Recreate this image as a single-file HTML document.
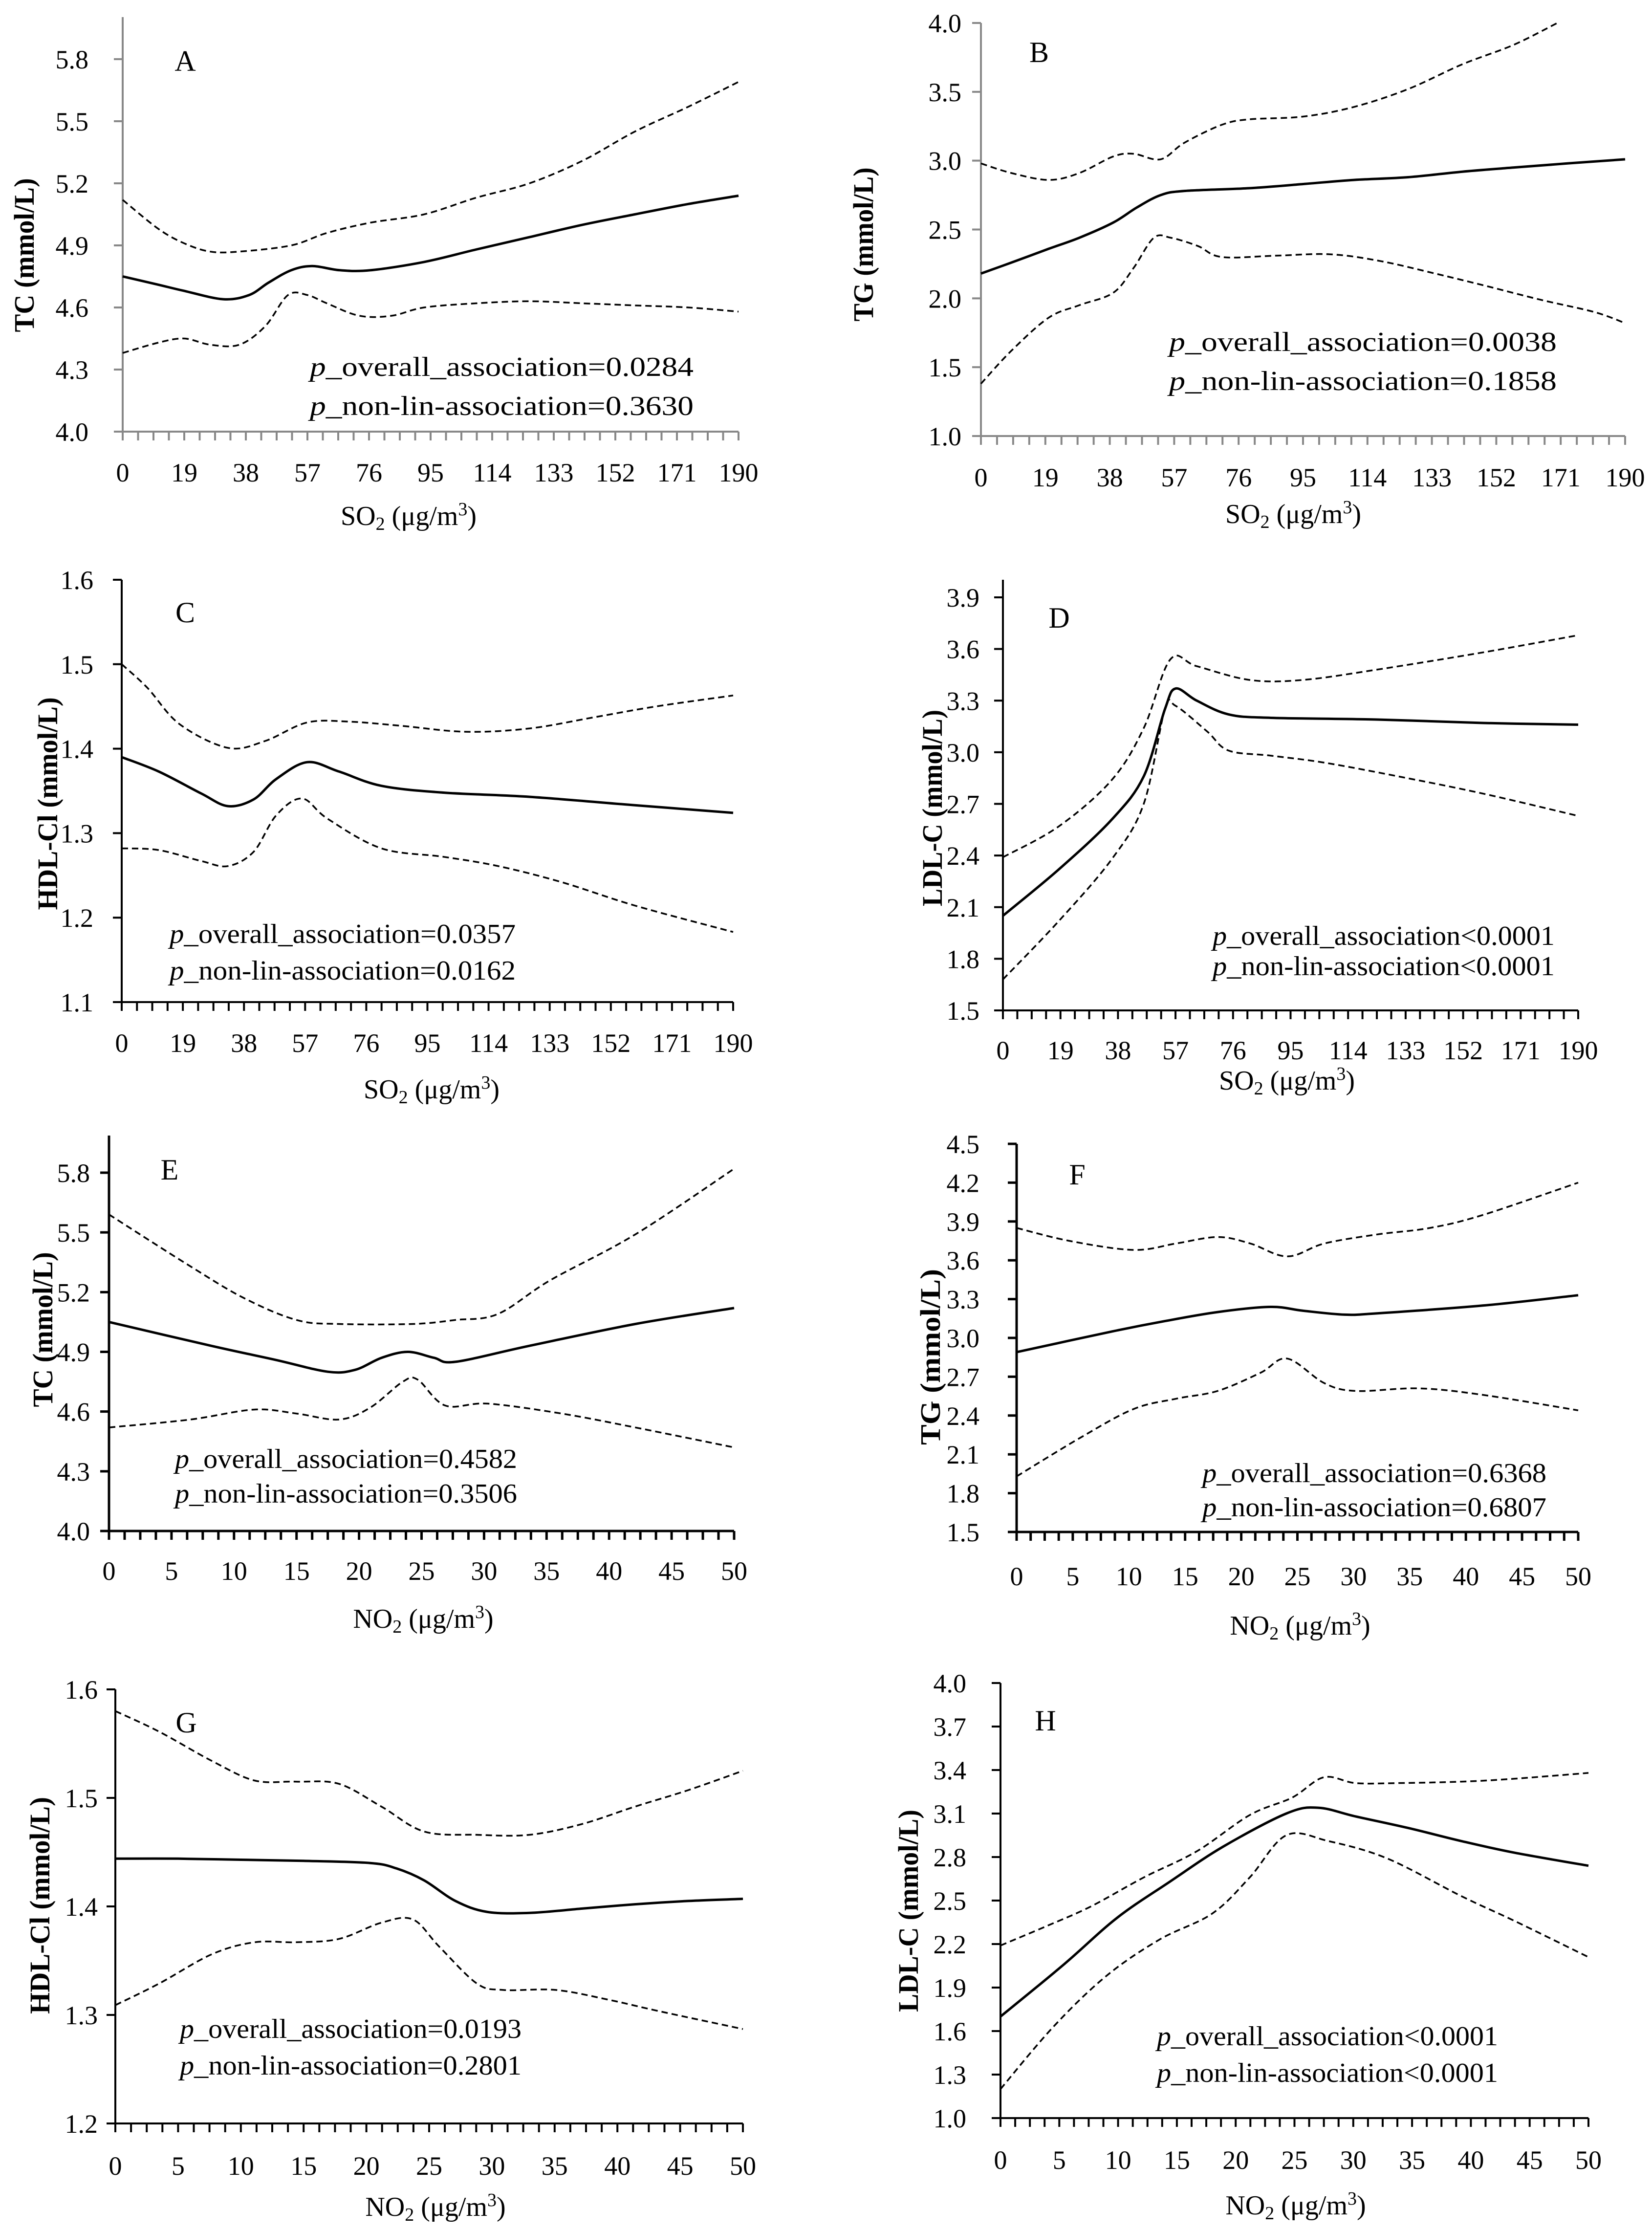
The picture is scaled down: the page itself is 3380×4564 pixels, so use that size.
<!DOCTYPE html>
<html><head><meta charset="utf-8"><style>
html,body{margin:0;padding:0;background:#fff;}
svg{display:block;}
text{font-family:"Liberation Serif",serif;fill:#000;}
</style></head><body>
<svg id="fig" width="3380" height="4564" viewBox="0 0 3380 4564" xmlns="http://www.w3.org/2000/svg"></svg>
<script>
// ---- Panel A: TC vs SO2 ----
const aMidX=[0,11,19,31,39,45,52,58.5,67,76.5,93,109,125.5,142,158,174.5,190];
const aMidY=[4.75,4.71,4.68,4.64,4.66,4.72,4.78,4.80,4.78,4.78,4.82,4.88,4.94,5.00,5.05,5.10,5.14];
const aUpX=[0,11,19,27,36,52,63,76.5,93,109,125.5,142,158,174.5,190];
const aUpY=[5.12,4.98,4.91,4.87,4.87,4.90,4.96,5.01,5.05,5.13,5.20,5.31,5.45,5.57,5.69];
const aLoX=[0,11,19,27,36,44,51,57,63,73,83,93,109,125.5,142,158,174.5,190];
const aLoY=[4.38,4.43,4.45,4.42,4.42,4.51,4.66,4.66,4.62,4.56,4.56,4.60,4.62,4.63,4.62,4.61,4.60,4.58];
// ---- Panel B: TG vs SO2 ----
const bMidX=[0,9,20,29,39,46,53,60,79,95,110,126,142,157,173,190];
const bMidY=[2.18,2.26,2.36,2.44,2.55,2.66,2.75,2.78,2.80,2.83,2.86,2.88,2.92,2.95,2.98,3.01];
const bUpX=[0,9,20,29,39,45,53,60,71,79,95,110,126,142,157,170];
const bUpY=[2.98,2.91,2.86,2.91,3.03,3.05,3.01,3.13,3.26,3.30,3.32,3.39,3.52,3.70,3.84,4.00];
const bLoX=[0,9,20,29,39,45,51,56,64,71,87,103,118,134,149,165,181,190];
const bLoY=[1.38,1.62,1.86,1.95,2.04,2.22,2.44,2.44,2.38,2.30,2.31,2.32,2.27,2.18,2.09,1.99,1.90,1.82];
// ---- Panel C: HDL vs SO2 ----
const cMidX=[0,11.5,24.7,33,41,48,57.6,67.5,80.7,100,126.8,159.7,190];
const cMidY=[1.39,1.373,1.347,1.332,1.34,1.364,1.384,1.373,1.356,1.348,1.343,1.333,1.324];
const cUpX=[0,8,18,33,44.5,57.6,70.8,87,107,126.8,146.5,166,190];
const cUpY=[1.50,1.472,1.429,1.401,1.409,1.431,1.432,1.427,1.42,1.424,1.437,1.45,1.463];
const cLoX=[0,11.5,24.7,33,41,48,56,64,80.7,100,117,136.7,159.7,190];
const cLoY=[1.282,1.28,1.267,1.261,1.278,1.321,1.341,1.317,1.282,1.272,1.261,1.242,1.214,1.183];
// ---- Panel D: LDL vs SO2 ----
const dMidX=[0,18.5,36,46.5,53.5,57,64,74.5,88.5,123.5,158.5,190];
const dMidY=[2.05,2.32,2.61,2.86,3.25,3.37,3.30,3.22,3.20,3.19,3.17,3.16];
const dUpX=[0,18.5,36,46.5,55.3,64,81.5,99,123.5,158.5,190];
const dUpY=[2.39,2.57,2.84,3.14,3.54,3.50,3.42,3.42,3.48,3.58,3.68];
const dLoX=[0,18.5,36,46.5,53.5,57,67.5,74.5,88.5,106,130.5,158.5,190];
const dLoY=[1.68,2.02,2.38,2.70,3.25,3.27,3.12,3.01,2.98,2.94,2.86,2.76,2.63];
// ---- Panel E: TC vs NO2 ----
const eMidX=[0,8.2,13.3,17.5,19.7,21.8,23.9,26,27.7,33.6,42.1,50];
const eMidY=[5.05,4.93,4.86,4.80,4.81,4.87,4.90,4.87,4.85,4.93,5.04,5.12];
const eUpX=[0,6.5,10.8,15,18.4,24.3,27.7,31.1,35.3,42.1,50];
const eUpY=[5.59,5.33,5.17,5.06,5.04,5.04,5.06,5.09,5.26,5.49,5.82];
const eLoX=[0,6.5,11.6,15,18.4,20.9,23.5,24.7,26.9,30.3,36.2,42.1,50];
const eLoY=[4.52,4.56,4.61,4.59,4.56,4.62,4.75,4.76,4.63,4.64,4.59,4.52,4.42];
// ---- Panel F: TG vs NO2 ----
const fMidX=[0,8.5,13.2,17.9,22.6,25.5,29.2,32.1,41.5,50];
const fMidY=[2.89,3.05,3.13,3.20,3.24,3.21,3.18,3.19,3.25,3.33];
const fUpX=[0,4.7,10.4,14.2,17.9,20.8,24.1,27.4,32.1,36.8,41.5,50];
const fUpY=[3.85,3.75,3.68,3.73,3.78,3.73,3.63,3.73,3.80,3.85,3.95,4.20];
const fLoX=[0,5.7,10.4,14.2,17.9,21.7,24.1,27.4,30.2,35.8,41.5,50];
const fLoY=[1.93,2.23,2.45,2.53,2.59,2.73,2.84,2.65,2.59,2.61,2.56,2.44];
// ---- Panel G: HDL vs NO2 ----
const gMidX=[0,5,10,15,20.3,22.4,24.6,27.1,29.6,33,37.2,41.4,45.6,50];
const gMidY=[1.444,1.444,1.443,1.442,1.440,1.435,1.424,1.405,1.395,1.394,1.398,1.402,1.405,1.407];
const gUpX=[0,3.5,7.7,11.1,14.4,17.8,21.2,24.6,28.8,33,37.2,41.4,45.6,50];
const gUpY=[1.580,1.561,1.534,1.516,1.515,1.513,1.492,1.469,1.466,1.466,1.476,1.492,1.507,1.525];
const gLoX=[0,3.5,7.7,11.1,14.4,17.8,21.2,23.7,25.8,28.8,30.9,35.1,39.3,43.5,50];
const gLoY=[1.309,1.329,1.356,1.367,1.367,1.370,1.385,1.388,1.363,1.329,1.323,1.323,1.314,1.303,1.287];
// ---- Panel H: LDL vs NO2 ----
const hMidX=[0,5.4,9.9,14.4,18.9,24.3,27,30.2,34.7,39.2,43.7,50];
const hMidY=[1.70,2.06,2.38,2.63,2.87,3.10,3.14,3.08,3.00,2.91,2.83,2.74];
const hUpX=[0,4.1,7.7,12.2,16.7,21.2,24.8,27.5,30.2,33.8,39.2,43.7,50];
const hUpY=[2.19,2.33,2.46,2.66,2.84,3.09,3.21,3.35,3.31,3.31,3.32,3.34,3.38];
const hLoX=[0,4.5,9,13.5,18,21.2,24.3,27.9,32.9,39.2,43.7,50];
const hLoY=[1.20,1.63,1.98,2.23,2.41,2.66,2.95,2.91,2.79,2.53,2.36,2.11];

const so2Ticks=["0","19","38","57","76","95","114","133","152","171","190"];
const no2Ticks=["0","5","10","15","20","25","30","35","40","45","50"];
const tcTicks=["4.0","4.3","4.6","4.9","5.2","5.5","5.8"];
const tgTicksB=["1.0","1.5","2.0","2.5","3.0","3.5","4.0"];
const hdlTicks=["1.1","1.2","1.3","1.4","1.5","1.6"];
const ldlTicksD=["1.5","1.8","2.1","2.4","2.7","3.0","3.3","3.6","3.9"];
const tgTicksF=["1.5","1.8","2.1","2.4","2.7","3.0","3.3","3.6","3.9","4.2","4.5"];
const hdlTicksG=["1.2","1.3","1.4","1.5","1.6"];
const ldlTicksH=["1.0","1.3","1.6","1.9","2.2","2.5","2.8","3.1","3.4","3.7","4.0"];

const NS="http://www.w3.org/2000/svg";
const fig=document.getElementById('fig');
function mk(tag,attrs,parent){const e=document.createElementNS(NS,tag);for(const k in attrs)e.setAttribute(k,attrs[k]);(parent||fig).appendChild(e);return e;}
function smooth(pts){
  let d="M"+pts[0][0].toFixed(1)+","+pts[0][1].toFixed(1);
  for(let i=0;i<pts.length-1;i++){
    const p0=pts[i-1]||pts[i],p1=pts[i],p2=pts[i+1],p3=pts[i+2]||p2;
    const c1=[p1[0]+(p2[0]-p0[0])/6,p1[1]+(p2[1]-p0[1])/6];
    const c2=[p2[0]-(p3[0]-p1[0])/6,p2[1]-(p3[1]-p1[1])/6];
    d+=" C"+c1[0].toFixed(1)+","+c1[1].toFixed(1)+" "+c2[0].toFixed(1)+","+c2[1].toFixed(1)+" "+p2[0].toFixed(1)+","+p2[1].toFixed(1);
  }
  return d;
}
const panels=[
 {id:"a",letter:"A",x0:251,x1:1511,xmax:190,yv0:4.0,yp0:883,yv1:5.8,yp1:121,top:35,yt:tcTicks,xt:so2Ticks,axc:"#888",aw:4,ylab:"TC (mmol/L)",ylx:49,yly:522,yll:315,gap:70,
  pol:"SO",xtx:836,xty:1056,letx:379,lety:124,anx:634,any:[753,833],anl:785,
  a1:"_overall_association=0.0284",a2:"_non-lin-association=0.3630",
  mid:[aMidX,aMidY],up:[aUpX,aUpY],lo:[aLoX,aLoY],lab:83},
 {id:"b",letter:"B",x0:2007,x1:3325,xmax:190,yv0:1.0,yp0:892,yv1:4.0,yp1:47,top:47,yt:tgTicksB,xt:so2Ticks,axc:"#888",aw:4,ylab:"TG (mmol/L)",ylx:1766,yly:500,yll:315,gap:40,
  pol:"SO",xtx:2646,xty:1052,letx:2126,lety:106,anx:2392,any:[702,782],anl:793,
  a1:"_overall_association=0.0038",a2:"_non-lin-association=0.1858",
  mid:[bMidX,bMidY],up:[bUpX,bUpY],lo:[bLoX,bLoY],lab:84},
 {id:"c",letter:"C",x0:249,x1:1500,xmax:190,yv0:1.1,yp0:2050,yv1:1.6,yp1:1186,top:1186,yt:hdlTicks,xt:so2Ticks,axc:"#000",aw:4,ylab:"HDL-Cl (mmol/L)",ylx:97,yly:1644,yll:435,gap:58,
  pol:"SO",xtx:883,xty:2229,letx:379,lety:1252,anx:347,any:[1913,1988],anl:708,
  a1:"_overall_association=0.0357",a2:"_non-lin-association=0.0162",
  mid:[cMidX,cMidY],up:[cUpX,cUpY],lo:[cLoX,cLoY],lab:83},
 {id:"d",letter:"D",x0:2052,x1:3229,xmax:190,yv0:1.5,yp0:2067,yv1:3.9,yp1:1222,top:1186,yt:ldlTicksD,xt:so2Ticks,axc:"#000",aw:4,ylab:"LDL-C (mmol/L)",ylx:1907,yly:1653,yll:402,gap:48,
  pol:"SO",xtx:2633,xty:2211,letx:2167,lety:1263,anx:2481,any:[1917,1979],anl:700,
  a1:"_overall_association<0.0001",a2:"_non-lin-association<0.0001",
  mid:[dMidX,dMidY],up:[dUpX,dUpY],lo:[dLoX,dLoY],lab:81},
 {id:"e",letter:"E",x0:223,x1:1502,xmax:50,yv0:4.0,yp0:3132,yv1:5.8,yp1:2399,top:2323,yt:tcTicks,xt:no2Ticks,axc:"#000",aw:5,ylab:"TC (mmol/L)",ylx:87,yly:2720,yll:317,gap:39,
  pol:"NO",xtx:866,xty:3312,letx:347,lety:2392,anx:358,any:[2987,3058],anl:700,
  a1:"_overall_association=0.4582",a2:"_non-lin-association=0.3506",
  mid:[eMidX,eMidY],up:[eUpX,eUpY],lo:[eLoX,eLoY],lab:81},
 {id:"f",letter:"F",x0:2080,x1:3229,xmax:50,yv0:1.5,yp0:3134,yv1:4.5,yp1:2340,top:2340,yt:tgTicksF,xt:no2Ticks,axc:"#000",aw:5,ylab:"TG (mmol/L)",ylx:1903,yly:2776,yll:360,gap:76,
  pol:"NO",xtx:2660,xty:3326,letx:2204,lety:2402,anx:2460,any:[3016,3086],anl:704,
  a1:"_overall_association=0.6368",a2:"_non-lin-association=0.6807",
  mid:[fMidX,fMidY],up:[fUpX,fUpY],lo:[fLoX,fLoY],lab:90},
 {id:"g",letter:"G",x0:236,x1:1520,xmax:50,yv0:1.2,yp0:4344,yv1:1.6,yp1:3456,top:3456,yt:hdlTicksG,xt:no2Ticks,axc:"#000",aw:4,ylab:"HDL-Cl (mmol/L)",ylx:81,yly:3898,yll:444,gap:36,
  pol:"NO",xtx:891,xty:4515,letx:381,lety:3523,anx:368,any:[4153,4228],anl:699,
  a1:"_overall_association=0.0193",a2:"_non-lin-association=0.2801",
  mid:[gMidX,gMidY],up:[gUpX,gUpY],lo:[gLoX,gLoY],lab:86},
 {id:"h",letter:"H",x0:2047,x1:3250,xmax:50,yv0:1.0,yp0:4333,yv1:4.0,yp1:3443,top:3443,yt:ldlTicksH,xt:no2Ticks,axc:"#000",aw:4,ylab:"LDL-C (mmol/L)",ylx:1858,yly:3909,yll:414,gap:70,
  pol:"NO",xtx:2651,xty:4512,letx:2139,lety:3519,anx:2367,any:[4168,4243],anl:698,
  a1:"_overall_association<0.0001",a2:"_non-lin-association<0.0001",
  mid:[hMidX,hMidY],up:[hUpX,hUpY],lo:[hLoX,hLoY],lab:85}
];
panels.forEach(P=>{
  const g=mk('g',{});
  
  
  const X=v=>P.x0+(v/P.xmax)*(P.x1-P.x0);
  const Y=v=>P.yp0-(v-P.yv0)/(P.yv1-P.yv0)*(P.yp0-P.yp1);
  const ya=mk('line',{x1:P.x0,y1:P.top,x2:P.x0,y2:P.yp0,stroke:P.axc,'stroke-width':P.aw},g);
  
  
  const xa=mk('line',{x1:P.x0-18,y1:P.yp0,x2:P.x1,y2:P.yp0,stroke:P.axc,'stroke-width':P.aw},g);
  
  
  for(let i=0;i<=40;i++){
    const x=P.x0+i*(P.x1-P.x0)/40;
    const t=mk('line',{x1:x,y1:P.yp0,x2:x,y2:P.yp0+18,stroke:P.axc,'stroke-width':P.aw},g);
    
    
  }
  P.xt.forEach((s,i)=>{
    const t=mk('text',{x:X(parseFloat(s)),y:P.yp0+P.lab+19,'font-size':54,'text-anchor':'middle'},g);
    t.textContent=s;
    
    
  });
  P.yt.forEach(s=>{
    const y=Y(parseFloat(s));
    const tk=mk('line',{x1:P.x0-18,y1:y,x2:P.x0,y2:y,stroke:P.axc,'stroke-width':P.aw},g);
    
    
    const t=mk('text',{x:P.x0-P.gap,y:y+19,'font-size':54,'text-anchor':'end'},g);
    t.textContent=s;
    
    
  });
  const yt=mk('text',{x:0,y:0,'font-size':58,'font-weight':'bold','text-anchor':'middle',textLength:P.yll,lengthAdjust:'spacingAndGlyphs',transform:`translate(${P.ylx+20},${P.yly}) rotate(-90)`},g);
  yt.textContent=P.ylab;
  
  
  const xt=mk('text',{x:P.xtx,y:P.xty+18,'font-size':56,'text-anchor':'middle'},g);
  
  
  const t1=mk('tspan',{},xt);t1.textContent=P.pol;
  const t2=mk('tspan',{'font-size':38,dy:10},xt);t2.textContent="2";
  const t3=mk('tspan',{dy:-10},xt);t3.textContent=" (μg/m";
  const t4=mk('tspan',{'font-size':38,dy:-20},xt);t4.textContent="3";
  const t5=mk('tspan',{dy:20},xt);t5.textContent=")";
  const L=mk('text',{x:P.letx,y:P.lety+21,'font-size':60,'text-anchor':'middle'},g);
  L.textContent=P.letter;
  
  
  [P.a1,P.a2].forEach((s,i)=>{
    const t=mk('text',{x:P.anx,y:P.any[i]+16,'font-size':56,textLength:P.anl,lengthAdjust:'spacingAndGlyphs'},g);
    
    
    const p=mk('tspan',{'font-style':'italic'},t);p.textContent="p";
    const r=mk('tspan',{},t);r.textContent=s;
  });
  [["mid",false],["up",true],["lo",true]].forEach(([k,dash])=>{
    const xs=P[k][0],ys=P[k][1];
    const pts=xs.map((v,i)=>[X(v),Y(ys[i])]);
    const attrs={d:smooth(pts),fill:'none',stroke:'#000','stroke-width':dash?3.5:5,'stroke-linejoin':'round'};
    if(dash)attrs['stroke-dasharray']='13 8';
    const path=mk('path',attrs,g);
    
    
  });
});
</script>
</body></html>
